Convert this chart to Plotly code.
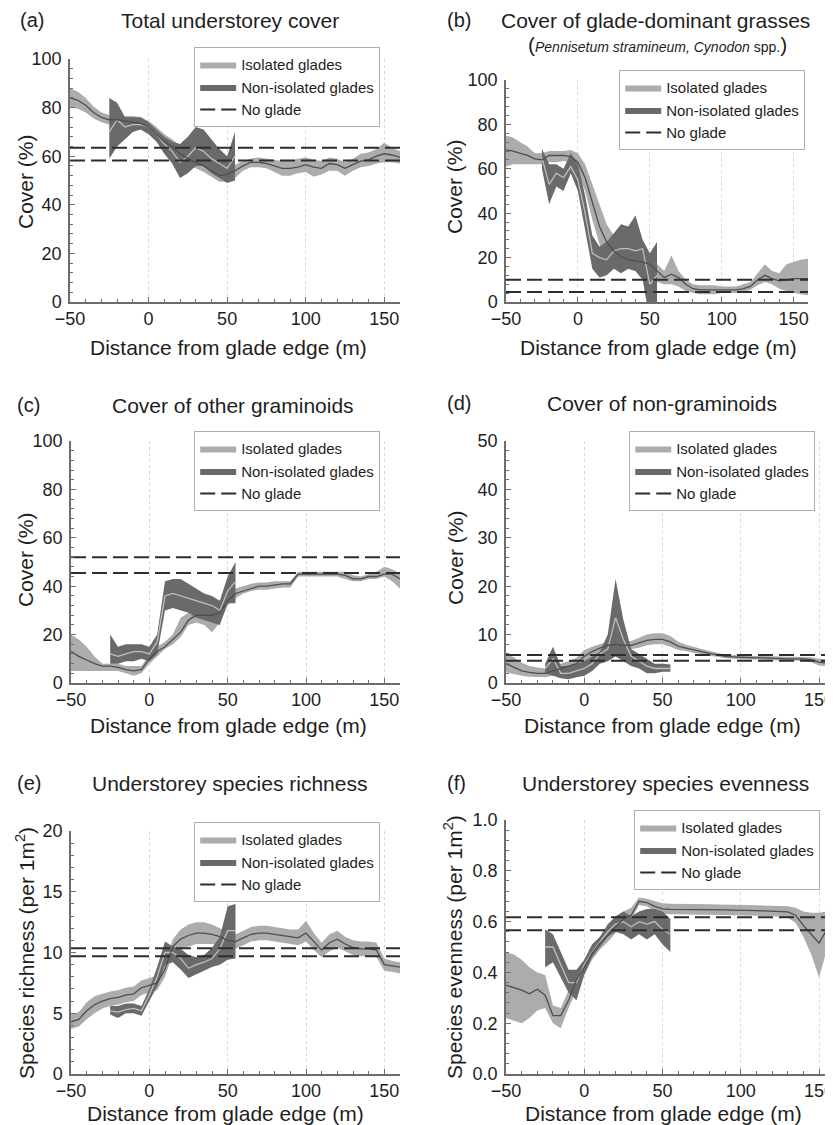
import plotly.graph_objects as go

# The page body has a default 8px margin, so the figure is sized to fill the
# remaining part of the 833x1125 window and all positions are offset by it.
OFF = 8
W, H = 833 - OFF, 1125 - OFF

# ---------------- data ----------------
dist_iso = [-50, -45, -40, -35, -30, -25, -20, -15, -10, -5, 0, 5, 10, 15, 20, 25, 30, 35, 40, 45,
            50, 55, 60, 65, 70, 75, 80, 85, 90, 95, 100, 105, 110, 115, 120, 125, 130, 135, 140,
            145, 150, 155, 160]
dist_non = [-25, -20, -15, -10, -5, 0, 5, 10, 15, 20, 25, 30, 35, 40, 45, 50, 55]

# (a) Total understorey cover
a_iso_mean = [84, 83, 81, 78, 76, 75, 75, 74.5, 74, 73.5, 72, 69, 66, 64, 61, 59, 57.5, 56, 54, 52,
              52.5, 54, 56, 57.5, 57.5, 57, 56, 55, 55, 55.5, 56.5, 55.5, 55, 57, 56.5, 55, 56.5,
              58, 58.5, 60, 61, 60.5, 59.5]
a_iso_hi = [88, 86.5, 84, 80.5, 78, 77, 77, 76.5, 76.5, 76, 74.5, 72, 69, 67, 64, 61.5, 60, 58.5,
            56.5, 55, 55.5, 56.5, 58, 59, 59.5, 59, 58.5, 58, 58, 59, 59.5, 58.5, 58, 59.5, 59,
            57.5, 59, 61, 61.5, 63, 65.5, 63.5, 62]
a_iso_lo = [80, 79.5, 78, 75.5, 74, 73, 73, 72.5, 71.5, 71, 69.5, 66, 63, 61, 58, 56, 55, 53.5,
            51.5, 49.5, 49.5, 51, 54, 55.5, 55.5, 55, 53.5, 52, 52, 53, 53.5, 51.5, 52.5, 54, 54,
            52, 54, 55.5, 56, 57, 57.5, 57.5, 57]
a_non_mean = [70, 75, 72, 73, 73, 72, 69, 65, 62, 57.5, 60, 63.5, 62, 59, 57, 55, 60]
a_non_lo = [59, 64, 67, 70, 71, 69, 66, 61, 57, 51, 53, 56, 56, 53, 51, 49, 50]
a_non_hi = [84, 82, 76, 76, 76, 74, 71, 68, 66, 65, 68, 72, 71, 67, 63, 60, 70]
a_noglade = [58.2, 63.5]

# (b) Cover of glade-dominant grasses
b_iso_mean = [68.5, 68, 67, 66, 64.5, 64, 66, 66, 66, 65.5, 63, 56, 45, 34, 27, 23, 20.5, 19, 18.5,
              18, 17, 14, 11, 12.5, 11, 8, 6, 5.5, 5.5, 5.5, 5.5, 5.5, 5.5, 6, 7, 10, 12, 10.5,
              9.5, 10, 10.5, 10.5, 10.5]
b_iso_hi = [75, 74, 72, 70, 67, 67, 68, 68, 68, 68.5, 67, 62, 53, 44, 35, 30, 26, 23.5, 23, 24,
            20, 17, 14, 21, 14, 10, 8, 7.5, 7.5, 7.5, 7, 7, 7, 8, 9, 13, 17, 14, 13, 17, 18, 19,
            19.5]
b_iso_lo = [61, 62, 62, 62, 62, 62, 63, 63, 63.5, 63, 58, 50, 37, 26, 21, 18, 16, 15, 14, 12, 11,
            9, 8, 8, 7, 5, 4, 3.5, 3.5, 3.5, 4, 4, 4, 4.5, 5.5, 7.5, 9, 8, 6, 5, 4, 3.5, 3]
b_non_mean = [65, 53, 58, 56, 61, 55, 40, 22, 20, 19, 23, 24, 24, 23, 24, 8, 12]
b_non_lo = [60, 44, 52, 50, 58, 50, 33, 15, 11, 12, 15, 13, 15, 14, 10, -8, -5]
b_non_hi = [69, 62, 62, 60, 67, 62, 48, 30, 25, 27, 31, 35, 34, 39, 28, 22, 27]
b_noglade = [4.5, 10]

# (c) Cover of other graminoids
c_iso_mean = [13, 11, 9.5, 8, 7, 7, 6.5, 5.5, 5, 5.5, 10, 13, 15, 18, 21, 26, 28, 28, 28, 29, 34,
              37, 38, 39, 40, 40, 40.5, 41, 41, 45, 45, 45, 45, 45, 45, 44.5, 43, 43, 44, 44, 45,
              45, 43]
c_iso_hi = [20, 18, 15, 11, 8, 8, 8, 7, 7, 7, 12, 15, 17, 20, 27, 29, 30, 30, 30, 31, 36, 39, 40,
            41, 41.5, 41.5, 42, 42, 42, 46, 46, 46, 46, 46, 46, 46, 44.5, 44, 45, 46, 48, 47, 45]
c_iso_lo = [5, 5, 5, 5, 5, 5, 5, 4, 3, 4, 8, 11, 14, 16, 19, 24, 25, 24, 21, 25, 32, 35, 37, 38,
            38.5, 38.5, 39, 39.5, 39.5, 44, 44, 44, 44, 44, 44, 43, 42, 42, 43, 43, 44, 42, 39]
c_non_mean = [12, 11, 12, 13, 13, 12, 17, 36, 37, 36, 35, 34, 33, 32, 30, 38, 42]
c_non_lo = [8, 8, 9, 9, 10, 9, 12, 30, 31, 30, 29, 27, 26, 25, 24, 33, 33]
c_non_hi = [20, 15, 16, 16, 16, 15, 20, 42, 43, 43, 41, 39, 37, 36, 34, 44, 50]
c_noglade = [45.5, 52]

# (d) Cover of non-graminoids
d_iso_mean = [4, 3.2, 2.5, 2.2, 2, 2, 2.5, 3, 3.5, 4, 5.5, 6.5, 7.2, 7.8, 8, 7.8, 7.8, 8.3, 8.8,
              9, 9, 8.5, 7.6, 7.2, 6.8, 6.5, 6.1, 5.8, 5.5, 5.4, 5.3, 5.2, 5.2, 5.2, 5.1, 5.1, 5,
              5, 5, 4.8, 4.3, 4.1, 4]
d_iso_hi = [6, 5.3, 4.2, 3.5, 3.2, 3, 3.5, 4, 4.5, 5.2, 6.8, 7.5, 8, 8.5, 8.8, 8.6, 8.7, 9.4, 10,
            10.3, 10.3, 9.7, 8.5, 7.9, 7.4, 7, 6.6, 6.2, 5.9, 5.8, 5.7, 5.6, 5.6, 5.6, 5.5, 5.5,
            5.4, 5.4, 5.4, 5.3, 5, 4.8, 4.8]
d_iso_lo = [2.2, 1.8, 1.5, 1.3, 1.2, 1.2, 1.5, 2, 2.5, 3, 4.2, 5.5, 6.4, 7, 7.2, 7, 7, 7.3, 7.8,
            8, 8, 7.5, 6.8, 6.6, 6.2, 6, 5.6, 5.4, 5.1, 5, 4.9, 4.8, 4.8, 4.8, 4.7, 4.7, 4.6,
            4.6, 4.6, 4.3, 3.6, 3.5, 3.4]
d_non_mean = [3, 5, 2, 2, 2.5, 3, 4, 6, 7, 13.5, 9, 5.5, 4.5, 3.5, 3, 3, 3]
d_non_lo = [2, 1.5, 1, 0.8, 1.2, 1.5, 2.5, 4, 4.5, 5.5, 4.5, 3.5, 3, 2, 2, 2.3, 2.3]
d_non_hi = [4, 7.5, 3.5, 3.5, 4, 4.5, 5.5, 6.5, 10, 21.5, 13, 7, 6, 5, 4, 4, 3.8]
d_noglade = [4.6, 5.8]

# (e) Understorey species richness
e_iso_mean = [4.3, 4.5, 5.2, 5.7, 6.0, 6.2, 6.3, 6.5, 6.6, 7.1, 7.3, 7.5, 8.6, 10.5, 11.1, 11.4,
              11.6, 11.6, 11.5, 11.3, 11.0, 10.9, 11.2, 11.5, 11.6, 11.6, 11.5, 11.4, 11.3, 11.2,
              11.6, 10.9, 10.2, 10.8, 11.1, 10.7, 10.4, 10.3, 10.3, 10.2, 9.0, 8.9, 8.8]
e_iso_hi = [4.9, 5.1, 5.9, 6.4, 6.6, 6.8, 6.9, 7.1, 7.2, 7.7, 7.9, 8.1, 9.2, 11.1, 11.9, 12.3,
            12.5, 12.5, 12.3, 12.0, 11.6, 11.5, 11.8, 12.1, 12.2, 12.2, 12.1, 12.0, 11.9, 11.9,
            12.6, 11.6, 10.8, 11.5, 11.8, 11.3, 11.0, 10.9, 10.9, 10.8, 9.5, 9.3, 9.2]
e_iso_lo = [3.7, 3.9, 4.5, 5.0, 5.4, 5.6, 5.7, 5.9, 6.0, 6.5, 6.7, 6.9, 8.0, 9.9, 10.3, 10.5,
            10.7, 10.7, 10.7, 10.6, 10.4, 10.3, 10.6, 10.9, 11.0, 11.0, 10.9, 10.8, 10.7, 10.6,
            10.9, 10.2, 9.6, 10.1, 10.4, 10.1, 9.8, 9.7, 9.7, 9.6, 8.5, 8.4, 8.3]
e_non_mean = [5.2, 5.1, 5.3, 5.4, 5.2, 6.5, 8.0, 10.0, 10.0, 9.5, 8.7, 9.0, 9.2, 9.5, 10.3, 11.8,
              11.8]
e_non_lo = [4.9, 4.6, 5.0, 5.0, 4.8, 6.0, 7.2, 9.0, 9.2, 8.6, 7.9, 8.2, 8.5, 8.8, 9.0, 9.4, 9.5]
e_non_hi = [5.6, 5.6, 5.8, 5.8, 5.6, 7.0, 8.8, 10.9, 10.5, 10.3, 9.8, 9.6, 9.8, 10.4, 11.3, 13.8,
            14.0]
e_noglade = [9.7, 10.35]

# (f) Understorey species evenness
f_iso_mean = [0.35, 0.34, 0.33, 0.316, 0.334, 0.31, 0.23, 0.23, 0.29, 0.37, 0.42, 0.476, 0.515,
              0.545, 0.58, 0.61, 0.626, 0.68, 0.675, 0.66, 0.65, 0.648, 0.648, 0.648, 0.648,
              0.647, 0.647, 0.646, 0.646, 0.645, 0.645, 0.644, 0.643, 0.642, 0.641, 0.64, 0.638,
              0.625, 0.585, 0.55, 0.515, 0.57, 0.62]
f_iso_hi = [0.48, 0.47, 0.45, 0.42, 0.40, 0.39, 0.27, 0.26, 0.33, 0.40, 0.45, 0.51, 0.54, 0.57,
            0.62, 0.64, 0.655, 0.695, 0.69, 0.68, 0.672, 0.67, 0.67, 0.67, 0.67, 0.668, 0.668,
            0.667, 0.667, 0.666, 0.666, 0.665, 0.664, 0.663, 0.662, 0.661, 0.66, 0.655, 0.64,
            0.635, 0.635, 0.64, 0.65]
f_iso_lo = [0.22, 0.21, 0.20, 0.22, 0.25, 0.26, 0.20, 0.18, 0.26, 0.33, 0.39, 0.45, 0.49, 0.52,
            0.555, 0.585, 0.605, 0.665, 0.66, 0.64, 0.63, 0.628, 0.628, 0.628, 0.628, 0.627,
            0.627, 0.626, 0.626, 0.625, 0.625, 0.624, 0.623, 0.622, 0.621, 0.62, 0.616, 0.595,
            0.54, 0.47, 0.38, 0.49, 0.58]
f_non_mean = [0.50, 0.50, 0.43, 0.36, 0.36, 0.43, 0.48, 0.52, 0.56, 0.59, 0.60, 0.58, 0.60, 0.59,
              0.60, 0.57, 0.55]
f_non_lo = [0.42, 0.44, 0.38, 0.32, 0.29, 0.39, 0.46, 0.50, 0.54, 0.56, 0.55, 0.53, 0.55, 0.53,
            0.55, 0.51, 0.48]
f_non_hi = [0.57, 0.55, 0.48, 0.41, 0.41, 0.45, 0.51, 0.54, 0.59, 0.62, 0.64, 0.62, 0.64, 0.65,
            0.65, 0.64, 0.61]
f_noglade = [0.566, 0.617]

legend_names = ["Isolated glades", "Non-isolated glades", "No glade"]

# ---------------- styling / layout ----------------
FONT = "Liberation Sans, Arial, Helvetica, sans-serif"
TXT = "#1e1e1e"
ISO_FILL = "rgb(172,172,172)"
NON_FILL = "rgb(106,106,106)"
ISO_LINE = "rgb(78,78,78)"
NON_LINE = "rgb(190,190,190)"
DASH_COL = "rgb(45,45,45)"
AX_COL = "rgb(110,110,110)"


def pxx(x):
    return (x - OFF) / W


def pyy(y):
    return 1 - (y - OFF) / H


panels = [
    dict(label="(a)", title="Total understorey cover", ytitle="Cover (%)",
         iso=(a_iso_mean, a_iso_lo, a_iso_hi), non=(a_non_mean, a_non_lo, a_non_hi), ng=a_noglade,
         xdom=(70, 400), ydom=(59, 302), xr=(-50, 160), yr=(0, 100), dt=20, mdt=4, fmt="",
         leg=(194, 47), lab=(18, 20), tit=(230, 20), xt=(228, 347), yt=(25, 182)),
    dict(label="(b)", title="Cover of glade-dominant grasses", ytitle="Cover (%)",
         iso=(b_iso_mean, b_iso_lo, b_iso_hi), non=(b_non_mean, b_non_lo, b_non_hi), ng=b_noglade,
         xdom=(506, 808), ydom=(80, 302), xr=(-50, 160), yr=(0, 100), dt=20, mdt=4, fmt="",
         leg=(619, 70), lab=(445, 20), tit=(655, 20), xt=(658, 347), yt=(455, 187)),
    dict(label="(c)", title="Cover of other graminoids", ytitle="Cover (%)",
         iso=(c_iso_mean, c_iso_lo, c_iso_hi), non=(c_non_mean, c_non_lo, c_non_hi), ng=c_noglade,
         xdom=(71, 400), ydom=(441, 683), xr=(-50, 160), yr=(0, 100), dt=20, mdt=4, fmt="",
         leg=(194, 431), lab=(15, 405), tit=(233, 405), xt=(228, 725), yt=(25, 560)),
    dict(label="(d)", title="Cover of non-graminoids", ytitle="Cover (%)",
         iso=(d_iso_mean, d_iso_lo, d_iso_hi), non=(d_non_mean, d_non_lo, d_non_hi), ng=d_noglade,
         xdom=(506, 833), ydom=(441, 683), xr=(-50, 158.9), yr=(0, 50), dt=10, mdt=2, fmt="",
         leg=(629, 431), lab=(445, 403), tit=(662, 403), xt=(662, 725), yt=(455, 558)),
    dict(label="(e)", title="Understorey species richness",
         ytitle="Species richness (per 1m<sup>2</sup>)",
         iso=(e_iso_mean, e_iso_lo, e_iso_hi), non=(e_non_mean, e_non_lo, e_non_hi), ng=e_noglade,
         xdom=(71, 400), ydom=(831, 1074), xr=(-50, 160), yr=(0, 20), dt=5, mdt=1, fmt="",
         leg=(194, 822), lab=(15, 783), tit=(229, 783), xt=(226, 1113), yt=(25, 953)),
    dict(label="(f)", title="Understorey species evenness",
         ytitle="Species evenness (per 1m<sup>2</sup>)",
         iso=(f_iso_mean, f_iso_lo, f_iso_hi), non=(f_non_mean, f_non_lo, f_non_hi), ng=f_noglade,
         xdom=(506, 833), ydom=(820, 1074), xr=(-50, 158.9), yr=(0, 1.0), dt=0.2, mdt=0.04,
         fmt=".1f",
         leg=(634, 810), lab=(445, 783), tit=(665, 783), xt=(663, 1113), yt=(453, 947)),
]

fig = go.Figure()
layout = dict(
    width=W, height=H, margin=dict(l=0, r=0, t=0, b=0, pad=0, autoexpand=False),
    paper_bgcolor="white", plot_bgcolor="white",
    font=dict(family=FONT, color=TXT, size=18),
    annotations=[],
)

for i, p in enumerate(panels):
    n = i + 1
    sfx = "" if n == 1 else str(n)
    xa, ya = "x" + sfx, "y" + sfx
    legname = "legend" + sfx
    im, il, ih = p["iso"]
    nm, nl, nh = p["non"]

    # isolated band
    fig.add_trace(go.Scatter(
        x=dist_iso + dist_iso[::-1], y=ih + il[::-1], fill="toself", mode="lines",
        fillcolor=ISO_FILL, line=dict(width=0, color=ISO_FILL), name=legend_names[0],
        xaxis=xa, yaxis=ya, legend=legname, hoverinfo="skip"))
    # non-isolated band
    fig.add_trace(go.Scatter(
        x=dist_non + dist_non[::-1], y=nh + nl[::-1], fill="toself", mode="lines",
        fillcolor=NON_FILL, line=dict(width=0, color=NON_FILL), name=legend_names[1],
        xaxis=xa, yaxis=ya, legend=legname, hoverinfo="skip"))
    # non-isolated mean
    fig.add_trace(go.Scatter(
        x=dist_non, y=nm, mode="lines", line=dict(color=NON_LINE, width=1.3),
        showlegend=False, xaxis=xa, yaxis=ya))
    # isolated mean
    fig.add_trace(go.Scatter(
        x=dist_iso, y=im, mode="lines", line=dict(color=ISO_LINE, width=1.3),
        showlegend=False, xaxis=xa, yaxis=ya))
    # no glade dashed lines
    x0, x1 = min(dist_iso), max(dist_iso)
    fig.add_trace(go.Scatter(
        x=[x0, x1, None, x0, x1], y=[p["ng"][0], p["ng"][0], None, p["ng"][1], p["ng"][1]],
        mode="lines", line=dict(color=DASH_COL, width=2, dash="15px,6px"),
        name=legend_names[2], xaxis=xa, yaxis=ya, legend=legname))

    layout["xaxis" + sfx] = dict(
        domain=[pxx(p["xdom"][0]), min(1.0, pxx(p["xdom"][1]))], anchor=ya, range=list(p["xr"]),
        tick0=0, dtick=50, ticks="inside", ticklen=5, tickcolor=AX_COL,
        showline=True, linecolor=AX_COL, linewidth=1.5,
        showgrid=True, gridcolor="rgb(215,215,215)", griddash="dot", gridwidth=1,
        zeroline=False, tickfont=dict(size=18, color=TXT, family=FONT),
        ticklabeloverflow="allow", automargin=False,
        minor=dict(dtick=10, tick0=0, ticks="inside", ticklen=3, tickcolor=AX_COL, showgrid=False),
        fixedrange=True)
    layout["yaxis" + sfx] = dict(
        domain=[pyy(p["ydom"][1]), pyy(p["ydom"][0])], anchor=xa, range=list(p["yr"]),
        tick0=0, dtick=p["dt"], ticks="inside", ticklen=5, tickcolor=AX_COL,
        showline=True, linecolor=AX_COL, linewidth=1.5, showgrid=False, zeroline=False,
        tickformat=p["fmt"], tickfont=dict(size=18, color=TXT, family=FONT),
        ticklabelstandoff=3, ticklabeloverflow="allow", automargin=False,
        minor=dict(dtick=p["mdt"], tick0=0, ticks="inside", ticklen=3, tickcolor=AX_COL,
                   showgrid=False),
        fixedrange=True)
    layout[legname] = dict(
        x=pxx(p["leg"][0]), y=pyy(p["leg"][1]), xanchor="left", yanchor="top",
        xref="paper", yref="paper",
        bgcolor="white", bordercolor="rgb(175,175,175)", borderwidth=1.2,
        font=dict(size=15, color=TXT, family=FONT), tracegroupgap=0, itemwidth=36,
        traceorder="normal")

    ann = layout["annotations"]
    ann.append(dict(text=p["label"], x=pxx(p["lab"][0]), y=pyy(p["lab"][1]), xref="paper",
                    yref="paper", xanchor="left", yanchor="middle", showarrow=False,
                    font=dict(size=20, color=TXT)))
    ann.append(dict(text=p["title"], x=pxx(p["tit"][0]), y=pyy(p["tit"][1]), xref="paper",
                    yref="paper", xanchor="center", yanchor="middle", showarrow=False,
                    font=dict(size=21, color=TXT)))
    ann.append(dict(text="Distance from glade edge (m)", x=pxx(p["xt"][0]), y=pyy(p["xt"][1]),
                    xref="paper", yref="paper", xanchor="center", yanchor="middle",
                    showarrow=False, font=dict(size=21, color=TXT)))
    ann.append(dict(text=p["ytitle"], x=pxx(p["yt"][0]), y=pyy(p["yt"][1]), xref="paper",
                    yref="paper", xanchor="center", yanchor="middle", textangle=-90,
                    showarrow=False, font=dict(size=21, color=TXT)))

# subtitle of panel (b)
layout["annotations"].append(dict(
    text="<span style='font-size:21px'>(</span><i>Pennisetum stramineum, Cynodon</i> spp."
         "<span style='font-size:21px'>)</span>",
    x=pxx(657), y=pyy(45), xref="paper", yref="paper", xanchor="center", yanchor="middle",
    showarrow=False, font=dict(size=14, color=TXT)))

fig.update_layout(**layout)
fig.write_html("out.html")
